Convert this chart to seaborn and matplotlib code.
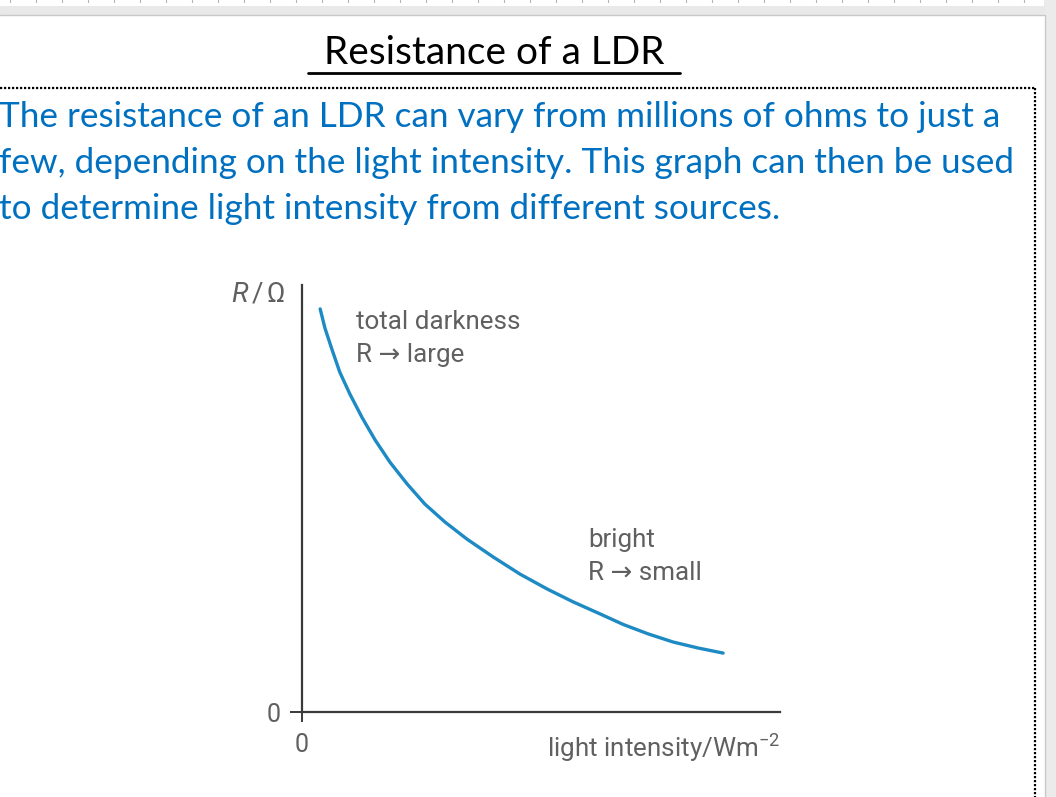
import numpy as np
import pandas as pd
import matplotlib
matplotlib.use('Agg')
import matplotlib.pyplot as plt
from matplotlib.patches import Rectangle
import seaborn as sns

# LDR curve (arbitrary units, both axes run 0..10)
intensity = [0.38, 0.48, 0.63, 0.79, 1.00, 1.26, 1.53, 1.84, 2.20, 2.57, 2.99,
             3.45, 4.00, 4.56, 5.13, 5.67, 6.23, 6.72, 7.24, 7.76, 8.28, 8.81]
resistance = [9.44, 8.99, 8.48, 7.96, 7.45, 6.89, 6.37, 5.85, 5.34, 4.87, 4.45,
              4.05, 3.63, 3.23, 2.88, 2.58, 2.30, 2.05, 1.83, 1.64, 1.50, 1.38]

title = 'Resistance of a LDR'
para_lines = ['The resistance of an LDR can vary from millions of ohms to just a',
              'few, depending on the light intensity. This graph can then be used',
              'to determine light intensity from different sources.']
dark_label = ['total darkness', 'R \u2192 large']
bright_label = ['bright', 'R \u2192 small']
xlabel = 'light intensity/Wm$^{-2}$'
ylabel = '$R\\,/\\,\\Omega$'

sns.set_style('white')
plt.rcParams['font.family'] = ['Lato', 'DejaVu Sans']
plt.rcParams['mathtext.fontset'] = 'custom'
plt.rcParams['mathtext.rm'] = 'Roboto'
plt.rcParams['mathtext.it'] = 'Roboto:italic'

W, H = 1056, 797
fig = plt.figure(figsize=(W / 100, H / 100), dpi=100)

# slide background in pixel coordinates
bg = fig.add_axes([0, 0, 1, 1])
bg.set_xlim(0, W)
bg.set_ylim(H, 0)
bg.axis('off')
bg.add_patch(Rectangle((0, 0), W, 15, color='#e9e9e9', lw=0))
bg.add_patch(Rectangle((0, 0), 1044, 6, color='white', lw=0))
bg.add_patch(Rectangle((1045, 0), W - 1045, H, color='#ebebeb', lw=0))
bg.plot([0, 1044], [14.5, 14.5], color='#c8c8c8', lw=1)
bg.plot([1044.5, 1044.5], [14.5, H], color='#c8c8c8', lw=1)
for tx in np.arange(10, 1040, 26):
    bg.plot([tx, tx], [0, 2], color='#b0b0b0', lw=0.8)

# dotted text-box frame
bg.plot([0, 1035], [88, 88], color='black', lw=1.6, ls=(0, (1, 0.8)))
bg.plot([1035, 1035], [88, H], color='black', lw=1.6, ls=(0, (1, 0.8)))

# title with underline
bg.text(494, 53, title, fontsize=28, ha='center', va='center', color='black')
bg.plot([308, 680], [73, 73], color='black', lw=2)

for i, line in enumerate(para_lines):
    bg.text(-1, 117 + 46 * i, line, fontsize=25.3, ha='left', va='center', color='#0070c0')

# the graph
ax = fig.add_axes([302 / W, 1 - 712 / H, (780 - 302) / W, (712 - 285) / H])
ax.patch.set_alpha(0)
df = pd.DataFrame({'intensity': intensity, 'resistance': resistance})
sns.lineplot(data=df, x='intensity', y='resistance', ax=ax, color='#1d8ac4', lw=2.4,
             solid_capstyle='round', solid_joinstyle='round')
ax.set_xlim(0, 10)
ax.set_ylim(0, 10)
sns.despine(ax=ax)
for s in ['left', 'bottom']:
    ax.spines[s].set_color('#3a3a3a')
    ax.spines[s].set_linewidth(1.6)
ax.set_xticks([0])
ax.set_yticks([0])
ax.tick_params(axis='both', direction='out', width=1.4, color='#3a3a3a',
               labelsize=18, labelcolor='#606060', bottom=True, left=True)
ax.tick_params(axis='x', length=7, pad=8)
ax.tick_params(axis='y', length=8.5, pad=7)
for lab in ax.get_xticklabels() + ax.get_yticklabels():
    lab.set_family(['Roboto', 'DejaVu Sans'])
ax.set_xlabel('')
ax.set_ylabel('')

gfont = dict(family=['Roboto', 'DejaVu Sans'], color='#606060', fontsize=18.7)
ax.text(1.13, 9.13, dark_label[0], va='center', ha='left', **gfont)
ax.text(1.13, 8.36, dark_label[1], va='center', ha='left', **gfont)
ax.text(5.98, 4.03, bright_label[0], va='center', ha='left', **gfont)
ax.text(5.98, 3.26, bright_label[1], va='center', ha='left', **gfont)
ax.text(10, -0.85, xlabel, va='center', ha='right', **gfont)
ax.text(-0.35, 9.8, ylabel, va='center', ha='right', family=['Roboto', 'DejaVu Sans'],
        color='#606060', fontsize=20)

fig.savefig('out.png', dpi=100)
